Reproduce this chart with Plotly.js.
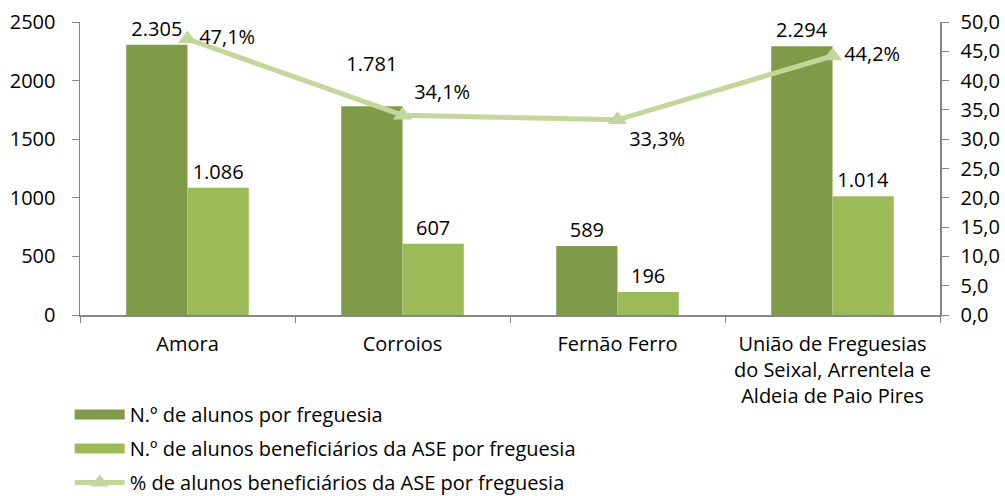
<!DOCTYPE html>
<html>
<head>
<meta charset="utf-8">
<script src="https://cdn.plot.ly/plotly-3.0.1.min.js"></script>
<style>html,body{margin:0;padding:0;background:#fff;}#chart{width:1005px;height:496px;}</style>
</head>
<body>
<div id="chart"></div>
<script>
const categories = ["Amora", "Corroios", "Fernão Ferro", "União de Freguesias<br>do Seixal, Arrentela e<br>Aldeia de Paio Pires"];
const alunos = [2305, 1781, 589, 2294];
const beneficiarios = [1086, 607, 196, 1014];
const percentagem = [47.1, 34.1, 33.3, 44.2];
const seriesNames = ["N.º de alunos por freguesia", "N.º de alunos beneficiários da ASE por freguesia", "% de alunos beneficiários da ASE por freguesia"];
const pctTextPos = ["middle right", "top right", "bottom right", "middle right"];
const alunosLabelTpl = ["%{y:,}", "%{y:,}<br>\u00a0", "%{y:,}", "%{y:,}"];

const FONT = "'Open Sans', sans-serif";
const FS = 20;
const cDark = "#7F9A48", cLight = "#9BBB59", cLine = "#C3D69B";

const traces = [
  {type: "bar", x: categories, y: alunos, name: seriesNames[0], showlegend: false,
   marker: {color: cDark}, texttemplate: alunosLabelTpl, textposition: "outside", constraintext: "none",
   textfont: {family: FONT, size: FS, color: "#000"}, cliponaxis: false, hoverinfo: "skip"},
  {type: "bar", x: categories, y: beneficiarios, name: seriesNames[1], showlegend: false,
   marker: {color: cLight}, texttemplate: "%{y:,}", textposition: "outside", constraintext: "none",
   textfont: {family: FONT, size: FS, color: "#000"}, cliponaxis: false, hoverinfo: "skip"},
  {type: "scatter", mode: "lines+markers+text", x: categories, y: percentagem, yaxis: "y2",
   name: seriesNames[2], showlegend: false,
   line: {color: cLine, width: 5}, marker: {symbol: "triangle-up", size: 17, color: cLine},
   texttemplate: "%{y:.1f}%", textposition: pctTextPos, cliponaxis: false,
   textfont: {family: FONT, size: FS, color: "#000"}, hoverinfo: "skip"},
  // legend entries
  {type: "scatter", mode: "lines", x: [null], y: [null], name: seriesNames[0], legendgroup: "a",
   line: {color: cDark, width: 16}},
  {type: "scatter", mode: "lines", x: [null], y: [null], name: seriesNames[1], legendgroup: "b",
   line: {color: cLight, width: 16}},
  {type: "scatter", mode: "lines+markers", x: [null], y: [null], yaxis: "y2", name: seriesNames[2], legendgroup: "c",
   line: {color: cLine, width: 5}, marker: {symbol: "triangle-up", size: 17, color: cLine}}
];

const layout = {
  width: 1005, height: 496,
  margin: {l: 80, r: 65, t: 22, b: 181},
  paper_bgcolor: "#fff", plot_bgcolor: "#fff",
  separators: ",.",
  font: {family: FONT, size: FS, color: "#000"},
  barmode: "group", bargap: 0.43, bargroupgap: 0,
  showlegend: true,
  legend: {x: -0.012, xanchor: "left", yref: "container", y: 0.2036, yanchor: "top",
           orientation: "v", traceorder: "grouped", tracegroupgap: 5, itemwidth: 50,
           font: {family: FONT, size: FS, color: "#000"}, bgcolor: "rgba(0,0,0,0)"},
  xaxis: {type: "category", showline: true, linecolor: "#868686", linewidth: 1.5,
          ticks: "outside", tickson: "boundaries", ticklen: 6, tickcolor: "#868686",
          showgrid: false, zeroline: false, ticklabelstandoff: 10, tickangle: 0, automargin: false,
          tickfont: {family: FONT, size: FS, color: "#000"}},
  yaxis: {range: [0, 2500], dtick: 500, tickformat: "d", showline: true, linecolor: "#868686", linewidth: 1.5,
          ticks: "outside", ticklen: 7, tickcolor: "#868686", showgrid: false, zeroline: false, automargin: false,
          ticklabelstandoff: 12, tickfont: {family: FONT, size: FS, color: "#000"}},
  yaxis2: {range: [0, 50], dtick: 5, tickformat: ".1f", overlaying: "y", side: "right",
           showline: true, linecolor: "#868686", linewidth: 1.5, ticks: "outside", ticklen: 7, automargin: false,
           tickcolor: "#868686", showgrid: false, zeroline: false, ticklabelstandoff: 8,
           tickfont: {family: FONT, size: FS, color: "#000"}}
};

Plotly.newPlot("chart", traces, layout, {displayModeBar: false, staticPlot: true});
</script>
</body>
</html>
